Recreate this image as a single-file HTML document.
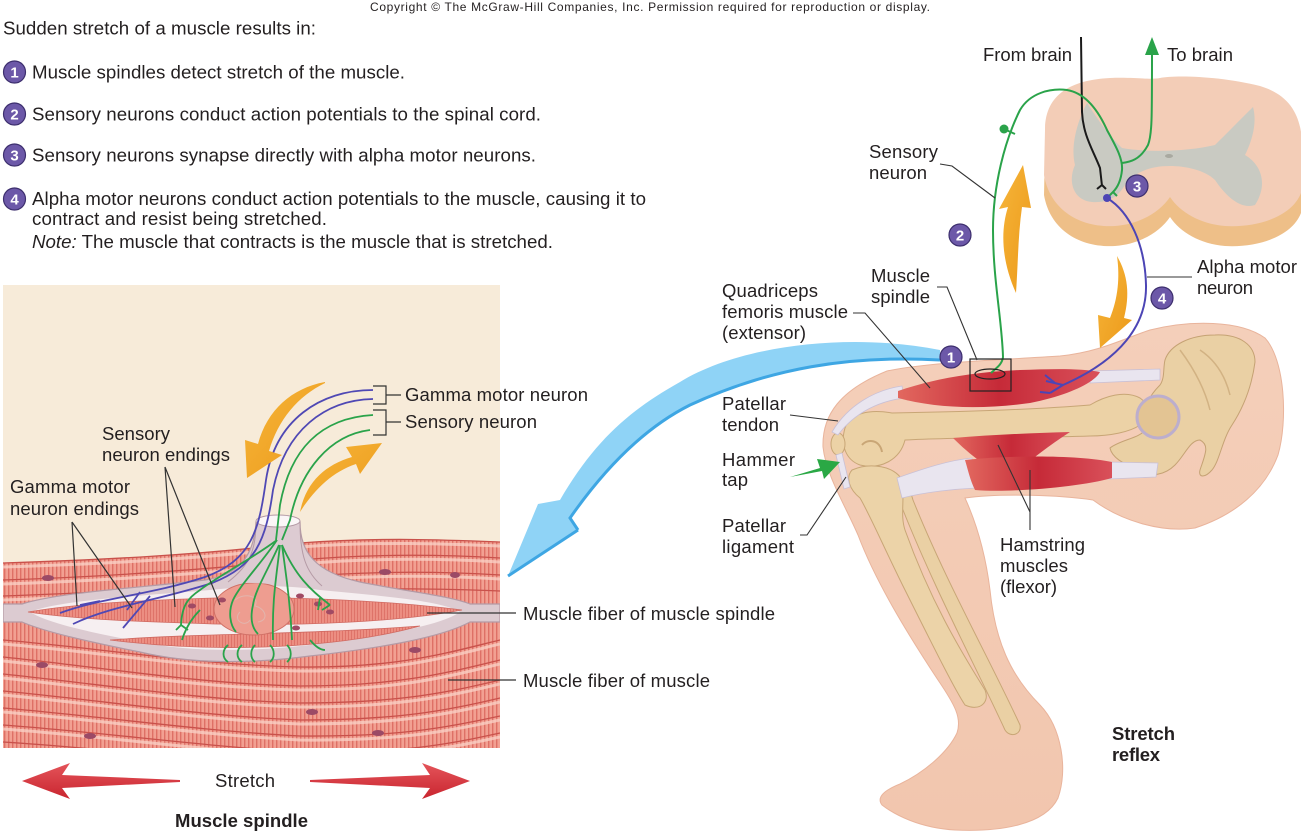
<!DOCTYPE html>
<html><head><meta charset="utf-8">
<style>
html,body{margin:0;padding:0;background:#fff;}
svg{display:block;}
text{font-family:"Liberation Sans",Arial,sans-serif;fill:#231f20;}
</style></head><body>
<svg width="1301" height="836" viewBox="0 0 1301 836" xmlns="http://www.w3.org/2000/svg">
<defs>
 <pattern id="stri" width="4" height="8" patternUnits="userSpaceOnUse">
   <rect width="4" height="8" fill="#f2a092"/>
   <rect width="1.4" height="8" fill="#d9645b" opacity="0.8"/>
 </pattern>
 <pattern id="stri2" width="3" height="8" patternUnits="userSpaceOnUse">
   <rect width="3" height="8" fill="#ec8e82"/>
   <rect width="1" height="8" fill="#d66058" opacity="0.6"/>
 </pattern>
 <linearGradient id="redm" x1="0" y1="0" x2="1" y2="0">
   <stop offset="0" stop-color="#e2685f"/><stop offset="0.5" stop-color="#c62a38"/><stop offset="1" stop-color="#d9505a"/>
 </linearGradient>
 <linearGradient id="skin" x1="0" y1="0" x2="0" y2="1">
   <stop offset="0" stop-color="#f4cfba"/><stop offset="1" stop-color="#f2c6ae"/>
 </linearGradient>
 <linearGradient id="orng" x1="0" y1="0" x2="1" y2="1">
   <stop offset="0" stop-color="#f6b53a"/><stop offset="1" stop-color="#ec9a1a"/>
 </linearGradient>
 <linearGradient id="redarr" x1="0" y1="0" x2="0" y2="1">
   <stop offset="0" stop-color="#e4545a"/><stop offset="1" stop-color="#c9252f"/>
 </linearGradient>
 <clipPath id="panel"><rect x="3" y="285" width="497" height="463"/></clipPath>
</defs>

<!-- Copyright -->
<text x="370" y="11" font-size="12" textLength="560">Copyright © The McGraw-Hill Companies, Inc. Permission required for reproduction or display.</text>

<!-- Intro text -->
<g font-size="18.7">
<text x="3" y="34.5" textLength="313">Sudden stretch of a muscle results in:</text>
<text x="32" y="78.5" textLength="373">Muscle spindles detect stretch of the muscle.</text>
<text x="32" y="120.5" textLength="509">Sensory neurons conduct action potentials to the spinal cord.</text>
<text x="32" y="161.5" textLength="504">Sensory neurons synapse directly with alpha motor neurons.</text>
<text x="32" y="205" textLength="614">Alpha motor neurons conduct action potentials to the muscle, causing it to</text>
<text x="32" y="225" textLength="295">contract and resist being stretched.</text>
<text x="32" y="248" textLength="521"><tspan font-style="italic">Note:</tspan> The muscle that contracts is the muscle that is stretched.</text>
</g>

<!-- number circles left -->
<g>
 <circle cx="14.5" cy="72" r="11" fill="#6c58a8" stroke="#3d2f6e" stroke-width="1.2"/>
 <circle cx="14.5" cy="114" r="11" fill="#6c58a8" stroke="#3d2f6e" stroke-width="1.2"/>
 <circle cx="14.5" cy="155" r="11" fill="#6c58a8" stroke="#3d2f6e" stroke-width="1.2"/>
 <circle cx="14.5" cy="199" r="11" fill="#6c58a8" stroke="#3d2f6e" stroke-width="1.2"/>
 <g font-size="15" font-weight="bold" text-anchor="middle">
  <text x="14.5" y="77.5" style="fill:#fff">1</text>
  <text x="14.5" y="119.5" style="fill:#fff">2</text>
  <text x="14.5" y="160.5" style="fill:#fff">3</text>
  <text x="14.5" y="204.5" style="fill:#fff">4</text>
 </g>
</g>

<!-- ============ MUSCLE SPINDLE PANEL ============ -->
<rect x="3" y="285" width="497" height="463" fill="#f7ebd9"/>
<g clip-path="url(#panel)">
 <path d="M 3 563 C 100 560, 200 555, 300 543 C 380 537, 450 540, 500 542 L 500 748 L 3 748 Z" fill="url(#stri)"/>
 <g fill="none" stroke="#c9514b" stroke-width="1.3">
  <path d="M 3 563 C 100 560, 200 555, 300 543 C 380 537, 450 540, 500 542"/>
  <path d="M 3 580 C 100 577, 200 570, 300 560 C 380 553, 450 555, 500 558"/>
  <path d="M 3 596 C 100 593, 200 586, 300 577 C 380 570, 450 572, 500 575"/>
  <path d="M 300 592 C 380 587, 450 589, 500 591"/>
  <path d="M 3 640 C 100 648, 200 665, 300 667 C 400 668, 450 652, 500 640"/>
  <path d="M 3 657 C 100 667, 200 684, 300 686 C 400 686, 450 672, 500 660"/>
  <path d="M 3 674 C 100 684, 200 700, 300 703 C 400 703, 450 692, 500 680"/>
  <path d="M 3 691 C 100 700, 200 716, 300 720 C 400 720, 450 710, 500 698"/>
  <path d="M 3 708 C 100 716, 200 731, 300 736 C 400 737, 450 727, 500 716"/>
  <path d="M 3 725 C 100 732, 200 746, 300 752 C 400 754, 450 744, 500 733"/>
  <path d="M 3 742 C 100 748, 200 760, 300 768"/>
 </g>
 <g fill="none" stroke="#fbd3c8" stroke-width="3" opacity="0.75">
  <path d="M 3 567 C 100 564, 200 559, 300 547 C 380 541, 450 544, 500 546"/>
  <path d="M 3 584 C 100 581, 200 574, 300 564 C 380 557, 450 559, 500 562"/>
  <path d="M 3 600 C 100 597, 200 590, 300 581 C 380 574, 450 576, 500 579"/>
  <path d="M 3 644 C 100 652, 200 669, 300 671 C 400 672, 450 656, 500 644"/>
  <path d="M 3 661 C 100 671, 200 688, 300 690 C 400 690, 450 676, 500 664"/>
  <path d="M 3 678 C 100 688, 200 704, 300 707 C 400 707, 450 696, 500 684"/>
  <path d="M 3 695 C 100 704, 200 720, 300 724 C 400 724, 450 714, 500 702"/>
  <path d="M 3 712 C 100 720, 200 735, 300 740 C 400 741, 450 731, 500 720"/>
  <path d="M 3 729 C 100 736, 200 750, 300 756 C 400 758, 450 748, 500 737"/>
 </g>
 <g fill="#9b4a66">
  <ellipse cx="48" cy="578" rx="6" ry="3"/>
  <ellipse cx="385" cy="572" rx="6" ry="3"/>
  <ellipse cx="42" cy="665" rx="6" ry="3"/>
  <ellipse cx="415" cy="650" rx="6" ry="3"/>
  <ellipse cx="312" cy="712" rx="6" ry="3"/>
  <ellipse cx="378" cy="733" rx="6" ry="3"/>
  <ellipse cx="90" cy="736" rx="6" ry="3"/>
  <ellipse cx="455" cy="575" rx="5" ry="3"/>
 </g>

 <!-- capsule -->
 <path d="M 3 604 L 22 604 C 60 592, 140 588, 205 580 C 240 575, 254 555, 256 522 L 300 522 C 300 552, 315 572, 360 582 C 410 592, 450 596, 470 604 L 500 604 L 500 622 L 470 622 C 440 638, 380 648, 310 656 C 250 664, 190 664, 140 652 C 90 642, 45 632, 22 622 L 3 622 Z" fill="#dccbd1" stroke="#b49aa5" stroke-width="1.2"/>
 <path d="M 30 612 C 60 600, 140 596, 210 590 C 250 586, 280 584, 320 590 C 380 596, 440 600, 460 612 C 440 626, 380 636, 310 645 C 250 652, 190 652, 140 642 C 90 632, 50 624, 30 612 Z" fill="#f6eff1"/>
 <path d="M 28 612 C 80 603, 150 600, 215 598 C 300 596, 400 602, 462 610 C 400 622, 300 626, 215 624 C 150 622, 80 620, 28 612 Z" fill="url(#stri2)" stroke="#d06a62" stroke-width="0.8"/>
 <path d="M 110 640 C 200 633, 300 635, 420 626 C 340 648, 220 654, 110 640 Z" fill="url(#stri2)" stroke="#d06a62" stroke-width="0.8"/>
 <ellipse cx="254" cy="609" rx="40" ry="26" fill="#ee9d90" stroke="#d07066" stroke-width="1"/>
 <path d="M 235 600 C 245 592, 260 596, 255 606 C 265 608, 270 620, 258 622 M 240 612 C 232 620, 245 628, 250 620" fill="none" stroke="#e2b5ad" stroke-width="1"/>
 <g fill="#a04a64">
  <ellipse cx="192" cy="606" rx="4" ry="2.5"/>
  <ellipse cx="222" cy="600" rx="4" ry="2.5"/>
  <ellipse cx="300" cy="596" rx="4" ry="2.5"/>
  <ellipse cx="318" cy="604" rx="4" ry="2.5"/>
  <ellipse cx="330" cy="612" rx="4" ry="2.5"/>
  <ellipse cx="296" cy="628" rx="4" ry="2.5"/>
  <ellipse cx="210" cy="618" rx="4" ry="2.5"/>
 </g>
 <!-- tube -->
 <path d="M 256 522 C 256 550, 250 565, 228 582 L 322 586 C 306 572, 300 555, 300 522 Z" fill="#dccbd1" opacity="0.92"/>
 <path d="M 256 522 C 256 550, 250 565, 228 582 M 300 522 C 300 555, 306 572, 322 586" fill="none" stroke="#b49aa5" stroke-width="1"/>
 <ellipse cx="278" cy="521" rx="22" ry="6" fill="#fbf6f7" stroke="#b49aa5" stroke-width="1"/>

 <!-- nerve lines -->
 <g fill="none" stroke="#4f48b4" stroke-width="1.8">
  <path d="M 373 390 C 320 390, 275 420, 266 480 C 259 530, 252 560, 205 577 C 150 595, 100 598, 60 613"/>
  <path d="M 373 399 C 325 400, 285 430, 273 490 C 266 540, 256 566, 212 583 C 160 600, 110 606, 73 624"/>
  <path d="M 100 601 L 80 605 M 140 592 L 127 610 M 150 596 L 123 628"/>
 </g>
 <g fill="none" stroke="#2aa34a" stroke-width="1.8">
  <path d="M 373 415 C 320 418, 290 450, 280 505 L 276 540"/>
  <path d="M 370 430 C 330 435, 300 470, 290 520 L 282 540"/>
  <path d="M 277 540 C 250 560, 220 575, 200 590 C 188 598, 182 605, 181 625"/>
  <path d="M 277 540 C 260 565, 240 585, 233 600 C 228 612, 230 625, 236 632"/>
  <path d="M 279 545 C 268 570, 255 590, 253 605 C 250 618, 252 628, 258 634"/>
  <path d="M 280 545 C 276 580, 272 600, 273 640"/>
  <path d="M 282 545 C 286 575, 290 600, 292 640"/>
  <path d="M 282 545 C 295 575, 310 590, 330 605"/>
  <path d="M 320 598 L 318 610 M 330 605 L 322 610"/>
  <path d="M 181 625 L 176 630 M 181 625 L 188 630"/>
  <path d="M 228 645 C 222 650, 222 658, 228 662 M 242 645 C 236 650, 236 658, 242 662 M 255 645 C 250 650, 250 658, 255 662 M 270 645 C 275 650, 275 658, 270 662 M 287 645 C 292 650, 292 658, 287 662"/>
  <path d="M 200 610 C 190 620, 185 630, 182 640"/>
  <path d="M 310 640 C 315 646, 320 650, 325 650"/>
 </g>

 <!-- orange arrows -->
 <path d="M 325 382 C 292 388, 267 410, 258 444 L 245 440 L 247 478 L 282 455 L 269 451 C 278 420, 298 396, 325 383 Z" fill="url(#orng)"/>
 <path d="M 300 512 C 306 482, 325 465, 352 457 L 346 447 L 382 443 L 360 474 L 356 464 C 332 472, 314 490, 300 512 Z" fill="url(#orng)"/>
</g>

<!-- brackets & labels of panel -->
<g fill="none" stroke="#333" stroke-width="1.2">
 <path d="M 373 386 L 386 386 L 386 404 L 373 404 M 386 395 L 401 395"/>
 <path d="M 373 410 L 386 410 L 386 435 L 373 435 M 386 422 L 401 422"/>
 <path d="M 72 522 L 77 606 M 72 522 L 132 608"/>
 <path d="M 165 467 L 175 607 M 165 467 L 220 605"/>
 <path d="M 427 613 L 516 613"/>
 <path d="M 448 680 L 516 680"/>
</g>
<g font-size="18.5">
 <text x="405" y="401" textLength="183">Gamma motor neuron</text>
 <text x="405" y="428" textLength="132">Sensory neuron</text>
 <text x="102" y="440" textLength="68">Sensory</text>
 <text x="102" y="461" textLength="128">neuron endings</text>
 <text x="10" y="493" textLength="120">Gamma motor</text>
 <text x="10" y="515" textLength="129">neuron endings</text>
 <text x="523" y="620" textLength="252">Muscle fiber of muscle spindle</text>
 <text x="523" y="687" textLength="187">Muscle fiber of muscle</text>
 <text x="215" y="787" textLength="60">Stretch</text>
 <text x="175" y="827" textLength="133" font-weight="bold">Muscle spindle</text>
</g>

<!-- stretch arrows -->
<path d="M 22 781 L 70 763 L 62 775 L 180 780 L 180 782 L 62 788 L 70 799 Z" fill="url(#redarr)"/>
<path d="M 470 781 L 422 763 L 430 775 L 310 780 L 310 782 L 430 788 L 422 799 Z" fill="url(#redarr)"/>

<!-- ============ SPINAL CORD ============ -->
<g>
 <path transform="translate(0,20)" d="M 1045 130 C 1045 95, 1070 80, 1110 78 C 1135 77, 1150 80, 1160 78 C 1175 75, 1220 76, 1260 86 C 1290 95, 1300 115, 1302 140 L 1302 190 C 1295 215, 1260 228, 1225 226 C 1200 224, 1180 212, 1170 197 C 1160 212, 1140 224, 1115 226 C 1080 228, 1050 210, 1044 175 Z" fill="#eebf88"/>
 <path d="M 1045 130 C 1045 95, 1070 80, 1110 78 C 1135 77, 1150 80, 1160 78 C 1175 75, 1220 76, 1260 86 C 1290 95, 1300 115, 1302 140 L 1302 190 C 1295 215, 1260 228, 1225 226 C 1200 224, 1180 212, 1170 197 C 1160 212, 1140 224, 1115 226 C 1080 228, 1050 210, 1044 175 Z" fill="#f3cdb7"/>
 <path d="M 1087 103 C 1095 115, 1108 135, 1122 148 C 1150 153, 1190 151, 1215 145 C 1230 130, 1245 115, 1253 107 C 1258 125, 1250 145, 1245 155 C 1262 165, 1268 185, 1255 205 C 1240 210, 1225 195, 1215 180 C 1205 170, 1185 166, 1170 166 C 1150 166, 1135 172, 1125 185 C 1118 197, 1108 203, 1092 202 C 1072 200, 1068 180, 1075 165 C 1070 145, 1078 120, 1087 103 Z" fill="#c9cac2"/>
 <ellipse cx="1169" cy="156" rx="4" ry="2" fill="#a9a9a0"/>
</g>

<!-- ============ LEG ============ -->
<path d="M 823 447 C 822 415, 840 390, 887 371 C 930 362, 1000 360, 1060 356 C 1100 352, 1125 338, 1150 330 C 1190 320, 1240 320, 1265 338 C 1285 360, 1288 420, 1278 455 C 1265 490, 1235 515, 1195 528 C 1160 533, 1120 520, 1093 500 C 1060 495, 1000 493, 965 498 C 975 520, 985 550, 990 590 C 995 640, 1010 675, 1040 705 C 1062 728, 1068 770, 1058 798 C 1045 825, 1000 832, 955 830 C 920 828, 895 815, 882 805 C 876 797, 885 790, 900 784 C 925 772, 948 752, 957 733 C 962 718, 955 705, 938 680 C 905 630, 875 580, 858 535 C 845 505, 826 475, 823 447 Z" fill="url(#skin)" stroke="#e9b49c" stroke-width="1"/>

<!-- pelvis -->
<path d="M 1165 360 C 1170 345, 1190 335, 1215 335 C 1240 334, 1255 345, 1255 362 C 1252 385, 1245 405, 1232 425 C 1222 440, 1220 460, 1212 470 C 1205 478, 1198 478, 1200 470 C 1205 455, 1210 445, 1200 440 C 1190 440, 1185 455, 1175 465 C 1165 475, 1150 478, 1140 470 C 1125 465, 1112 458, 1110 448 C 1120 440, 1140 438, 1145 430 C 1140 410, 1150 395, 1160 385 C 1165 378, 1163 368, 1165 360 Z" fill="#ead0a4" stroke="#c5a274" stroke-width="1"/>
<path d="M 1200 350 C 1215 360, 1225 375, 1230 395 M 1180 350 C 1195 370, 1205 390, 1210 410" fill="none" stroke="#d2b283" stroke-width="1.5"/>
<!-- femur -->
<path d="M 845 428 C 850 413, 870 409, 892 413 C 950 412, 1030 410, 1090 405 C 1105 396, 1125 390, 1140 398 C 1150 405, 1150 415, 1140 425 C 1130 432, 1110 436, 1090 436 C 1030 438, 960 437, 905 440 C 900 460, 880 470, 860 465 C 846 460, 840 445, 845 428 Z" fill="#ecd2a6" stroke="#c8a676" stroke-width="1"/>
<path d="M 862 445 C 868 438, 880 440, 882 452" fill="none" stroke="#c9a676" stroke-width="2"/>
<circle cx="1158" cy="417" r="21" fill="#e3c493" stroke="#bcaecd" stroke-width="3"/>
<!-- tibia / fibula -->
<path d="M 892 484 C 902 478, 910 488, 913 500 C 945 580, 990 660, 1020 725 C 1022 735, 1010 738, 1005 730 C 975 665, 935 590, 903 510 C 896 500, 888 490, 892 484 Z" fill="#ead0a4" stroke="#c8a676" stroke-width="1"/>
<path d="M 852 470 C 870 462, 895 466, 902 480 C 905 500, 900 515, 905 530 C 930 600, 960 650, 985 690 C 990 702, 980 712, 965 705 C 955 690, 935 650, 905 590 C 885 550, 870 515, 860 498 C 850 490, 845 478, 852 470 Z" fill="#ecd3a8" stroke="#c8a676" stroke-width="1"/>
<ellipse cx="838" cy="444" rx="7" ry="11" fill="#ecd2a6" stroke="#c8a676" stroke-width="1"/>

<!-- tendons -->
<g fill="#e9e5ef" stroke="#c9c0d6" stroke-width="0.8">
 <path d="M 902 386 C 875 390, 848 405, 832 432 L 838 435 C 855 412, 880 401, 904 398 Z"/>
 <path d="M 1090 371 L 1160 369 L 1160 380 L 1090 383 Z"/>
 <path d="M 1108 462 L 1158 463 L 1156 477 L 1108 479 Z"/>
 <path d="M 897 478 C 925 468, 950 460, 972 458 L 976 488 C 955 489, 925 492, 902 498 Z"/>
 <path d="M 836 455 L 842 453 L 850 487 L 844 489 Z"/>
</g>
<!-- muscles -->
<path d="M 898 391 C 930 380, 970 372, 1020 370 C 1050 369, 1080 368, 1100 372 C 1095 382, 1070 395, 1030 403 C 980 410, 935 408, 898 398 Z" fill="url(#redm)"/>
<path d="M 953 438 C 990 435, 1030 433, 1070 432 C 1045 448, 1025 465, 1008 478 C 990 470, 970 455, 953 438 Z" fill="url(#redm)"/>
<path d="M 965 460 C 1010 455, 1080 455, 1112 462 L 1112 478 C 1080 487, 1010 493, 975 490 C 970 480, 968 470, 965 460 Z" fill="url(#redm)"/>

<!-- neurons right -->
<g fill="none" stroke-width="2">
 <path d="M 1081 37 L 1082 112 C 1083 135, 1093 150, 1100 168 L 1102 186 M 1097 189 L 1102 185 L 1106 189" stroke="#1a1a1a"/>
 <path d="M 991 373 C 996 368, 1002 365, 1003 357 C 1002 320, 993 280, 993 230 C 993 185, 1005 140, 1020 110 C 1030 93, 1050 88, 1067 90 C 1085 93, 1098 110, 1107 130 C 1115 145, 1123 158, 1122 170 C 1121 180, 1118 187, 1113 192 M 1113 192 L 1109 196 M 1113 192 L 1117 196" stroke="#2aa34a"/>
 <path d="M 1122 163 C 1130 162, 1140 160, 1148 145 C 1152 135, 1152 120, 1152 52" stroke="#2aa34a"/>
 <path d="M 1004 129 L 1015 134" stroke="#2aa34a"/>
 <path d="M 1107 198 C 1130 212, 1145 245, 1146 285 C 1147 325, 1120 360, 1063 385 M 1063 385 L 1046 381 M 1063 385 L 1050 393 M 1050 393 L 1040 392 M 1055 383 L 1045 375" stroke="#4c45b5"/>
</g>
<polygon points="1152,37 1145,55 1159,55" fill="#2aa34a"/>
<circle cx="1004" cy="129" r="4.5" fill="#2aa34a"/>
<circle cx="1107" cy="198" r="4" fill="#4c45b5"/>

<!-- spindle box -->
<rect x="970" y="359" width="41" height="32" fill="none" stroke="#222" stroke-width="1.2"/>
<ellipse cx="990" cy="374" rx="15" ry="5" fill="none" stroke="#222" stroke-width="1.2"/>

<!-- orange arrows right -->
<path d="M 1016 293 C 1002 262, 1000 232, 1008 207 L 999 209 L 1023 165 L 1031 208 L 1022 207 C 1018 235, 1018 265, 1016 293 Z" fill="url(#orng)"/>
<path d="M 1117 256 C 1128 275, 1130 295, 1124 318 L 1132 320 L 1100 348 L 1098 315 L 1110 318 C 1118 298, 1120 278, 1117 256 Z" fill="url(#orng)"/>

<!-- big blue arrow -->
<path d="M 940 350 C 850 332, 740 345, 680 382 C 630 410, 595 440, 560 500 L 538 504 L 508 576 L 578 530 L 570 518 C 600 475, 640 430, 690 405 C 770 368, 850 355, 940 360 Z" fill="#8fd3f6"/>
<path d="M 578 530 L 570 518 C 600 475, 640 430, 690 405 C 770 368, 850 355, 940 360" fill="none" stroke="#3ea6e3" stroke-width="3"/>
<path d="M 508 576 L 578 530" stroke="#3ea6e3" stroke-width="3"/>

<!-- hammer arrow -->
<path d="M 790 477 L 820 468 L 817 459 L 840 462 L 824 479 L 822 471 Z" fill="#2aa845"/>

<!-- circles right -->
<g>
 <circle cx="951" cy="357" r="11" fill="#6c58a8" stroke="#3d2f6e" stroke-width="1.2"/>
 <circle cx="960" cy="235" r="11" fill="#6c58a8" stroke="#3d2f6e" stroke-width="1.2"/>
 <circle cx="1137" cy="186" r="11" fill="#6c58a8" stroke="#3d2f6e" stroke-width="1.2"/>
 <circle cx="1162" cy="298" r="11" fill="#6c58a8" stroke="#3d2f6e" stroke-width="1.2"/>
 <g font-size="15" font-weight="bold" text-anchor="middle">
  <text x="951" y="362.5" style="fill:#fff">1</text>
  <text x="960" y="240.5" style="fill:#fff">2</text>
  <text x="1137" y="191.5" style="fill:#fff">3</text>
  <text x="1162" y="303.5" style="fill:#fff">4</text>
 </g>
</g>

<!-- leaders right -->
<g fill="none" stroke="#333" stroke-width="1.1">
 <path d="M 940 164 L 952 166 L 995 198"/>
 <path d="M 937 287 L 947 287 L 977 360"/>
 <path d="M 853 313 L 865 313 L 930 388"/>
 <path d="M 790 415 L 838 421"/>
 <path d="M 800 535 L 807 535 L 846 477"/>
 <path d="M 1030 530 L 1030 512 L 998 445 M 1030 512 L 1030 470"/>
 <path d="M 1147 277 L 1192 277"/>
</g>

<!-- labels right -->
<g font-size="18.5">
 <text x="983" y="61" textLength="89">From brain</text>
 <text x="1167" y="61" textLength="66">To brain</text>
 <text x="869" y="158" textLength="69">Sensory</text>
 <text x="869" y="179" textLength="58">neuron</text>
 <text x="1197" y="273" textLength="100">Alpha motor</text>
 <text x="1197" y="294" textLength="56">neuron</text>
 <text x="871" y="282" textLength="59">Muscle</text>
 <text x="871" y="303" textLength="59">spindle</text>
 <text x="722" y="297" textLength="96">Quadriceps</text>
 <text x="722" y="318" textLength="126">femoris muscle</text>
 <text x="722" y="339" textLength="84">(extensor)</text>
 <text x="722" y="410" textLength="64">Patellar</text>
 <text x="722" y="431" textLength="57">tendon</text>
 <text x="722" y="466" textLength="73">Hammer</text>
 <text x="722" y="486" textLength="26">tap</text>
 <text x="722" y="532" textLength="64">Patellar</text>
 <text x="722" y="553" textLength="72">ligament</text>
 <text x="1000" y="551" textLength="85">Hamstring</text>
 <text x="1000" y="572" textLength="68">muscles</text>
 <text x="1000" y="593" textLength="57">(flexor)</text>
 <text x="1112" y="740" textLength="63" font-weight="bold">Stretch</text>
 <text x="1112" y="761" textLength="48" font-weight="bold">reflex</text>
</g>
</svg>
</body></html>
